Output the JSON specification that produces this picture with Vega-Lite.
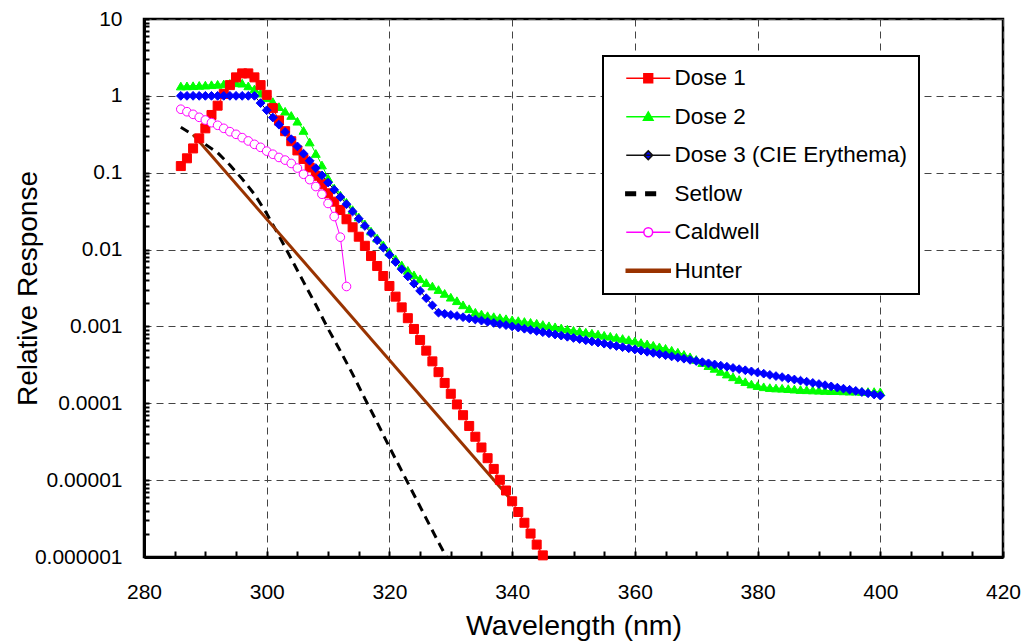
{
  "$schema": "https://vega.github.io/schema/vega-lite/v6.json",
  "width": 859,
  "height": 538,
  "autosize": "none",
  "padding": {"left": 144, "top": 19, "right": 21, "bottom": 84},
  "background": "white",
  "config": {
    "font": "Liberation Sans",
    "view": {"stroke": "black", "strokeWidth": 2.5},
    "axis": {"labelFont": "Liberation Sans", "titleFont": "Liberation Sans", "labelColor": "black", "titleColor": "black", "titleFontWeight": "normal"}
  },
  "data": {"values": [
    {"s": "Setlow", "w": 286, "v": 0.39}, {"s": "Setlow", "w": 288, "v": 0.31}, {"s": "Setlow", "w": 290, "v": 0.234}, {"s": "Setlow", "w": 292, "v": 0.182}, {"s": "Setlow", "w": 294, "v": 0.126}, {"s": "Setlow", "w": 296, "v": 0.0832}, {"s": "Setlow", "w": 298, "v": 0.0525}, {"s": "Setlow", "w": 300, "v": 0.0295}, {"s": "Setlow", "w": 302, "v": 0.0151}, {"s": "Setlow", "w": 304, "v": 0.00759}, {"s": "Setlow", "w": 306, "v": 0.0038}, {"s": "Setlow", "w": 308, "v": 0.00191}, {"s": "Setlow", "w": 310, "v": 0.000933}, {"s": "Setlow", "w": 312, "v": 0.000479}, {"s": "Setlow", "w": 314, "v": 0.00024}, {"s": "Setlow", "w": 316, "v": 0.000115}, {"s": "Setlow", "w": 318, "v": 0.0000562}, {"s": "Setlow", "w": 320, "v": 0.0000269}, {"s": "Setlow", "w": 322, "v": 0.0000132}, {"s": "Setlow", "w": 324, "v": 0.00000646}, {"s": "Setlow", "w": 326, "v": 0.00000316}, {"s": "Setlow", "w": 328, "v": 0.00000155}, {"s": "Setlow", "w": 329.3, "v": 0.000001},
    {"s": "Hunter", "w": 288, "v": 0.314}, {"s": "Hunter", "w": 339.5, "v": 0.00000594},
    {"s": "Dose 2", "w": 286, "v": 1.343}, {"s": "Dose 2", "w": 287, "v": 1.349}, {"s": "Dose 2", "w": 288, "v": 1.355}, {"s": "Dose 2", "w": 289, "v": 1.368}, {"s": "Dose 2", "w": 290, "v": 1.38}, {"s": "Dose 2", "w": 291, "v": 1.396}, {"s": "Dose 2", "w": 292, "v": 1.413}, {"s": "Dose 2", "w": 293, "v": 1.429}, {"s": "Dose 2", "w": 294, "v": 1.452}, {"s": "Dose 2", "w": 295, "v": 1.479}, {"s": "Dose 2", "w": 296, "v": 1.462}, {"s": "Dose 2", "w": 297, "v": 1.349}, {"s": "Dose 2", "w": 298, "v": 1.23}, {"s": "Dose 2", "w": 299, "v": 1.084}, {"s": "Dose 2", "w": 300, "v": 0.944}, {"s": "Dose 2", "w": 301, "v": 0.841}, {"s": "Dose 2", "w": 302, "v": 0.724}, {"s": "Dose 2", "w": 303, "v": 0.631}, {"s": "Dose 2", "w": 304, "v": 0.556}, {"s": "Dose 2", "w": 305, "v": 0.468}, {"s": "Dose 2", "w": 306, "v": 0.355}, {"s": "Dose 2", "w": 307, "v": 0.251}, {"s": "Dose 2", "w": 308, "v": 0.178}, {"s": "Dose 2", "w": 309, "v": 0.126}, {"s": "Dose 2", "w": 310, "v": 0.0851}, {"s": "Dose 2", "w": 311, "v": 0.0631}, {"s": "Dose 2", "w": 312, "v": 0.0513}, {"s": "Dose 2", "w": 313, "v": 0.0412}, {"s": "Dose 2", "w": 314, "v": 0.0331}, {"s": "Dose 2", "w": 315, "v": 0.0266}, {"s": "Dose 2", "w": 316, "v": 0.0216}, {"s": "Dose 2", "w": 317, "v": 0.0174}, {"s": "Dose 2", "w": 318, "v": 0.0141}, {"s": "Dose 2", "w": 319, "v": 0.0115}, {"s": "Dose 2", "w": 320, "v": 0.00933}, {"s": "Dose 2", "w": 321, "v": 0.00759}, {"s": "Dose 2", "w": 322, "v": 0.00631}, {"s": "Dose 2", "w": 323, "v": 0.00537}, {"s": "Dose 2", "w": 324, "v": 0.00468}, {"s": "Dose 2", "w": 325, "v": 0.00417}, {"s": "Dose 2", "w": 326, "v": 0.00372}, {"s": "Dose 2", "w": 327, "v": 0.00335}, {"s": "Dose 2", "w": 328, "v": 0.00302}, {"s": "Dose 2", "w": 329, "v": 0.00269}, {"s": "Dose 2", "w": 330, "v": 0.0024}, {"s": "Dose 2", "w": 331, "v": 0.00216}, {"s": "Dose 2", "w": 332, "v": 0.00191}, {"s": "Dose 2", "w": 333, "v": 0.0017}, {"s": "Dose 2", "w": 334, "v": 0.00153}, {"s": "Dose 2", "w": 335, "v": 0.00145}, {"s": "Dose 2", "w": 336, "v": 0.00138}, {"s": "Dose 2", "w": 337, "v": 0.00134}, {"s": "Dose 2", "w": 338, "v": 0.0013}, {"s": "Dose 2", "w": 339, "v": 0.00126}, {"s": "Dose 2", "w": 340, "v": 0.00122}, {"s": "Dose 2", "w": 341, "v": 0.00119}, {"s": "Dose 2", "w": 342, "v": 0.00116}, {"s": "Dose 2", "w": 343, "v": 0.00113}, {"s": "Dose 2", "w": 344, "v": 0.0011}, {"s": "Dose 2", "w": 345, "v": 0.00106}, {"s": "Dose 2", "w": 346, "v": 0.00102}, {"s": "Dose 2", "w": 347, "v": 0.000989}, {"s": "Dose 2", "w": 348, "v": 0.000955}, {"s": "Dose 2", "w": 349, "v": 0.000923}, {"s": "Dose 2", "w": 350, "v": 0.000891}, {"s": "Dose 2", "w": 351, "v": 0.000867}, {"s": "Dose 2", "w": 352, "v": 0.000841}, {"s": "Dose 2", "w": 353, "v": 0.000817}, {"s": "Dose 2", "w": 354, "v": 0.000794}, {"s": "Dose 2", "w": 355, "v": 0.000767}, {"s": "Dose 2", "w": 356, "v": 0.000745}, {"s": "Dose 2", "w": 357, "v": 0.000721}, {"s": "Dose 2", "w": 358, "v": 0.000697}, {"s": "Dose 2", "w": 359, "v": 0.000673}, {"s": "Dose 2", "w": 360, "v": 0.000646}, {"s": "Dose 2", "w": 361, "v": 0.000617}, {"s": "Dose 2", "w": 362, "v": 0.000592}, {"s": "Dose 2", "w": 363, "v": 0.000569}, {"s": "Dose 2", "w": 364, "v": 0.000543}, {"s": "Dose 2", "w": 365, "v": 0.000519}, {"s": "Dose 2", "w": 366, "v": 0.00049}, {"s": "Dose 2", "w": 367, "v": 0.000462}, {"s": "Dose 2", "w": 368, "v": 0.000432}, {"s": "Dose 2", "w": 369, "v": 0.000403}, {"s": "Dose 2", "w": 370, "v": 0.000372}, {"s": "Dose 2", "w": 371, "v": 0.000339}, {"s": "Dose 2", "w": 372, "v": 0.000309}, {"s": "Dose 2", "w": 373, "v": 0.000285}, {"s": "Dose 2", "w": 374, "v": 0.00026}, {"s": "Dose 2", "w": 375, "v": 0.00024}, {"s": "Dose 2", "w": 376, "v": 0.000221}, {"s": "Dose 2", "w": 377, "v": 0.000204}, {"s": "Dose 2", "w": 378, "v": 0.000191}, {"s": "Dose 2", "w": 379, "v": 0.000178}, {"s": "Dose 2", "w": 380, "v": 0.00017}, {"s": "Dose 2", "w": 381, "v": 0.000164}, {"s": "Dose 2", "w": 382, "v": 0.00016}, {"s": "Dose 2", "w": 383, "v": 0.000158}, {"s": "Dose 2", "w": 384, "v": 0.000157}, {"s": "Dose 2", "w": 385, "v": 0.000155}, {"s": "Dose 2", "w": 386, "v": 0.000153}, {"s": "Dose 2", "w": 387, "v": 0.000151}, {"s": "Dose 2", "w": 388, "v": 0.00015}, {"s": "Dose 2", "w": 389, "v": 0.000149}, {"s": "Dose 2", "w": 390, "v": 0.000148}, {"s": "Dose 2", "w": 391, "v": 0.000147}, {"s": "Dose 2", "w": 392, "v": 0.000146}, {"s": "Dose 2", "w": 393, "v": 0.000146}, {"s": "Dose 2", "w": 394, "v": 0.000145}, {"s": "Dose 2", "w": 395, "v": 0.000144}, {"s": "Dose 2", "w": 396, "v": 0.000144}, {"s": "Dose 2", "w": 397, "v": 0.000143}, {"s": "Dose 2", "w": 398, "v": 0.000142}, {"s": "Dose 2", "w": 399, "v": 0.000142}, {"s": "Dose 2", "w": 400, "v": 0.000141},
    {"s": "Dose 1", "w": 286, "v": 0.122}, {"s": "Dose 1", "w": 287, "v": 0.154}, {"s": "Dose 1", "w": 288, "v": 0.207}, {"s": "Dose 1", "w": 289, "v": 0.28}, {"s": "Dose 1", "w": 290, "v": 0.378}, {"s": "Dose 1", "w": 291, "v": 0.564}, {"s": "Dose 1", "w": 292, "v": 0.745}, {"s": "Dose 1", "w": 293, "v": 1.06}, {"s": "Dose 1", "w": 294, "v": 1.38}, {"s": "Dose 1", "w": 295, "v": 1.74}, {"s": "Dose 1", "w": 296, "v": 1.96}, {"s": "Dose 1", "w": 297, "v": 1.96}, {"s": "Dose 1", "w": 298, "v": 1.74}, {"s": "Dose 1", "w": 299, "v": 1.38}, {"s": "Dose 1", "w": 300, "v": 1.03}, {"s": "Dose 1", "w": 301, "v": 0.692}, {"s": "Dose 1", "w": 302, "v": 0.479}, {"s": "Dose 1", "w": 303, "v": 0.347}, {"s": "Dose 1", "w": 304, "v": 0.257}, {"s": "Dose 1", "w": 305, "v": 0.195}, {"s": "Dose 1", "w": 306, "v": 0.151}, {"s": "Dose 1", "w": 307, "v": 0.117}, {"s": "Dose 1", "w": 308, "v": 0.0912}, {"s": "Dose 1", "w": 309, "v": 0.0708}, {"s": "Dose 1", "w": 310, "v": 0.054}, {"s": "Dose 1", "w": 311, "v": 0.042}, {"s": "Dose 1", "w": 312, "v": 0.0327}, {"s": "Dose 1", "w": 313, "v": 0.0248}, {"s": "Dose 1", "w": 314, "v": 0.0195}, {"s": "Dose 1", "w": 315, "v": 0.0147}, {"s": "Dose 1", "w": 316, "v": 0.0112}, {"s": "Dose 1", "w": 317, "v": 0.00824}, {"s": "Dose 1", "w": 318, "v": 0.00611}, {"s": "Dose 1", "w": 319, "v": 0.00453}, {"s": "Dose 1", "w": 320, "v": 0.00336}, {"s": "Dose 1", "w": 321, "v": 0.00244}, {"s": "Dose 1", "w": 322, "v": 0.00177}, {"s": "Dose 1", "w": 323, "v": 0.00128}, {"s": "Dose 1", "w": 324, "v": 0.000927}, {"s": "Dose 1", "w": 325, "v": 0.000667}, {"s": "Dose 1", "w": 326, "v": 0.000484}, {"s": "Dose 1", "w": 327, "v": 0.000351}, {"s": "Dose 1", "w": 328, "v": 0.000254}, {"s": "Dose 1", "w": 329, "v": 0.000184}, {"s": "Dose 1", "w": 330, "v": 0.000133}, {"s": "Dose 1", "w": 331, "v": 0.0000966}, {"s": "Dose 1", "w": 332, "v": 0.00007}, {"s": "Dose 1", "w": 333, "v": 0.0000507}, {"s": "Dose 1", "w": 334, "v": 0.0000367}, {"s": "Dose 1", "w": 335, "v": 0.0000266}, {"s": "Dose 1", "w": 336, "v": 0.0000193}, {"s": "Dose 1", "w": 337, "v": 0.000014}, {"s": "Dose 1", "w": 338, "v": 0.0000101}, {"s": "Dose 1", "w": 339, "v": 0.00000733}, {"s": "Dose 1", "w": 340, "v": 0.00000531}, {"s": "Dose 1", "w": 341, "v": 0.00000385}, {"s": "Dose 1", "w": 342, "v": 0.00000279}, {"s": "Dose 1", "w": 343, "v": 0.00000202}, {"s": "Dose 1", "w": 344, "v": 0.00000145}, {"s": "Dose 1", "w": 345, "v": 0.00000105},
    {"s": "Dose 3 (CIE Erythema)", "w": 286, "v": 1}, {"s": "Dose 3 (CIE Erythema)", "w": 287, "v": 1}, {"s": "Dose 3 (CIE Erythema)", "w": 288, "v": 1}, {"s": "Dose 3 (CIE Erythema)", "w": 289, "v": 1}, {"s": "Dose 3 (CIE Erythema)", "w": 290, "v": 1}, {"s": "Dose 3 (CIE Erythema)", "w": 291, "v": 1}, {"s": "Dose 3 (CIE Erythema)", "w": 292, "v": 1}, {"s": "Dose 3 (CIE Erythema)", "w": 293, "v": 1}, {"s": "Dose 3 (CIE Erythema)", "w": 294, "v": 1}, {"s": "Dose 3 (CIE Erythema)", "w": 295, "v": 1}, {"s": "Dose 3 (CIE Erythema)", "w": 296, "v": 1}, {"s": "Dose 3 (CIE Erythema)", "w": 297, "v": 1}, {"s": "Dose 3 (CIE Erythema)", "w": 298, "v": 1}, {"s": "Dose 3 (CIE Erythema)", "w": 299, "v": 0.805}, {"s": "Dose 3 (CIE Erythema)", "w": 300, "v": 0.649}, {"s": "Dose 3 (CIE Erythema)", "w": 301, "v": 0.522}, {"s": "Dose 3 (CIE Erythema)", "w": 302, "v": 0.421}, {"s": "Dose 3 (CIE Erythema)", "w": 303, "v": 0.339}, {"s": "Dose 3 (CIE Erythema)", "w": 304, "v": 0.273}, {"s": "Dose 3 (CIE Erythema)", "w": 305, "v": 0.22}, {"s": "Dose 3 (CIE Erythema)", "w": 306, "v": 0.177}, {"s": "Dose 3 (CIE Erythema)", "w": 307, "v": 0.143}, {"s": "Dose 3 (CIE Erythema)", "w": 308, "v": 0.115}, {"s": "Dose 3 (CIE Erythema)", "w": 309, "v": 0.0925}, {"s": "Dose 3 (CIE Erythema)", "w": 310, "v": 0.0745}, {"s": "Dose 3 (CIE Erythema)", "w": 311, "v": 0.06}, {"s": "Dose 3 (CIE Erythema)", "w": 312, "v": 0.0483}, {"s": "Dose 3 (CIE Erythema)", "w": 313, "v": 0.0389}, {"s": "Dose 3 (CIE Erythema)", "w": 314, "v": 0.0313}, {"s": "Dose 3 (CIE Erythema)", "w": 315, "v": 0.0252}, {"s": "Dose 3 (CIE Erythema)", "w": 316, "v": 0.0203}, {"s": "Dose 3 (CIE Erythema)", "w": 317, "v": 0.0164}, {"s": "Dose 3 (CIE Erythema)", "w": 318, "v": 0.0132}, {"s": "Dose 3 (CIE Erythema)", "w": 319, "v": 0.0106}, {"s": "Dose 3 (CIE Erythema)", "w": 320, "v": 0.00855}, {"s": "Dose 3 (CIE Erythema)", "w": 321, "v": 0.00689}, {"s": "Dose 3 (CIE Erythema)", "w": 322, "v": 0.00555}, {"s": "Dose 3 (CIE Erythema)", "w": 323, "v": 0.00447}, {"s": "Dose 3 (CIE Erythema)", "w": 324, "v": 0.0036}, {"s": "Dose 3 (CIE Erythema)", "w": 325, "v": 0.0029}, {"s": "Dose 3 (CIE Erythema)", "w": 326, "v": 0.00233}, {"s": "Dose 3 (CIE Erythema)", "w": 327, "v": 0.00188}, {"s": "Dose 3 (CIE Erythema)", "w": 328, "v": 0.00151}, {"s": "Dose 3 (CIE Erythema)", "w": 329, "v": 0.00146}, {"s": "Dose 3 (CIE Erythema)", "w": 330, "v": 0.00141}, {"s": "Dose 3 (CIE Erythema)", "w": 331, "v": 0.00137}, {"s": "Dose 3 (CIE Erythema)", "w": 332, "v": 0.00132}, {"s": "Dose 3 (CIE Erythema)", "w": 333, "v": 0.00127}, {"s": "Dose 3 (CIE Erythema)", "w": 334, "v": 0.00123}, {"s": "Dose 3 (CIE Erythema)", "w": 335, "v": 0.00119}, {"s": "Dose 3 (CIE Erythema)", "w": 336, "v": 0.00115}, {"s": "Dose 3 (CIE Erythema)", "w": 337, "v": 0.00111}, {"s": "Dose 3 (CIE Erythema)", "w": 338, "v": 0.00107}, {"s": "Dose 3 (CIE Erythema)", "w": 339, "v": 0.00104}, {"s": "Dose 3 (CIE Erythema)", "w": 340, "v": 0.001}, {"s": "Dose 3 (CIE Erythema)", "w": 341, "v": 0.000966}, {"s": "Dose 3 (CIE Erythema)", "w": 342, "v": 0.000933}, {"s": "Dose 3 (CIE Erythema)", "w": 343, "v": 0.000902}, {"s": "Dose 3 (CIE Erythema)", "w": 344, "v": 0.000871}, {"s": "Dose 3 (CIE Erythema)", "w": 345, "v": 0.000841}, {"s": "Dose 3 (CIE Erythema)", "w": 346, "v": 0.000813}, {"s": "Dose 3 (CIE Erythema)", "w": 347, "v": 0.000785}, {"s": "Dose 3 (CIE Erythema)", "w": 348, "v": 0.000759}, {"s": "Dose 3 (CIE Erythema)", "w": 349, "v": 0.000733}, {"s": "Dose 3 (CIE Erythema)", "w": 350, "v": 0.000708}, {"s": "Dose 3 (CIE Erythema)", "w": 351, "v": 0.000684}, {"s": "Dose 3 (CIE Erythema)", "w": 352, "v": 0.000661}, {"s": "Dose 3 (CIE Erythema)", "w": 353, "v": 0.000638}, {"s": "Dose 3 (CIE Erythema)", "w": 354, "v": 0.000617}, {"s": "Dose 3 (CIE Erythema)", "w": 355, "v": 0.000596}, {"s": "Dose 3 (CIE Erythema)", "w": 356, "v": 0.000575}, {"s": "Dose 3 (CIE Erythema)", "w": 357, "v": 0.000556}, {"s": "Dose 3 (CIE Erythema)", "w": 358, "v": 0.000537}, {"s": "Dose 3 (CIE Erythema)", "w": 359, "v": 0.000519}, {"s": "Dose 3 (CIE Erythema)", "w": 360, "v": 0.000501}, {"s": "Dose 3 (CIE Erythema)", "w": 361, "v": 0.000484}, {"s": "Dose 3 (CIE Erythema)", "w": 362, "v": 0.000468}, {"s": "Dose 3 (CIE Erythema)", "w": 363, "v": 0.000452}, {"s": "Dose 3 (CIE Erythema)", "w": 364, "v": 0.000437}, {"s": "Dose 3 (CIE Erythema)", "w": 365, "v": 0.000422}, {"s": "Dose 3 (CIE Erythema)", "w": 366, "v": 0.000407}, {"s": "Dose 3 (CIE Erythema)", "w": 367, "v": 0.000394}, {"s": "Dose 3 (CIE Erythema)", "w": 368, "v": 0.00038}, {"s": "Dose 3 (CIE Erythema)", "w": 369, "v": 0.000367}, {"s": "Dose 3 (CIE Erythema)", "w": 370, "v": 0.000355}, {"s": "Dose 3 (CIE Erythema)", "w": 371, "v": 0.000343}, {"s": "Dose 3 (CIE Erythema)", "w": 372, "v": 0.000331}, {"s": "Dose 3 (CIE Erythema)", "w": 373, "v": 0.00032}, {"s": "Dose 3 (CIE Erythema)", "w": 374, "v": 0.000309}, {"s": "Dose 3 (CIE Erythema)", "w": 375, "v": 0.000299}, {"s": "Dose 3 (CIE Erythema)", "w": 376, "v": 0.000288}, {"s": "Dose 3 (CIE Erythema)", "w": 377, "v": 0.000278}, {"s": "Dose 3 (CIE Erythema)", "w": 378, "v": 0.000269}, {"s": "Dose 3 (CIE Erythema)", "w": 379, "v": 0.00026}, {"s": "Dose 3 (CIE Erythema)", "w": 380, "v": 0.000251}, {"s": "Dose 3 (CIE Erythema)", "w": 381, "v": 0.000243}, {"s": "Dose 3 (CIE Erythema)", "w": 382, "v": 0.000234}, {"s": "Dose 3 (CIE Erythema)", "w": 383, "v": 0.000226}, {"s": "Dose 3 (CIE Erythema)", "w": 384, "v": 0.000219}, {"s": "Dose 3 (CIE Erythema)", "w": 385, "v": 0.000211}, {"s": "Dose 3 (CIE Erythema)", "w": 386, "v": 0.000204}, {"s": "Dose 3 (CIE Erythema)", "w": 387, "v": 0.000197}, {"s": "Dose 3 (CIE Erythema)", "w": 388, "v": 0.000191}, {"s": "Dose 3 (CIE Erythema)", "w": 389, "v": 0.000184}, {"s": "Dose 3 (CIE Erythema)", "w": 390, "v": 0.000178}, {"s": "Dose 3 (CIE Erythema)", "w": 391, "v": 0.000172}, {"s": "Dose 3 (CIE Erythema)", "w": 392, "v": 0.000166}, {"s": "Dose 3 (CIE Erythema)", "w": 393, "v": 0.00016}, {"s": "Dose 3 (CIE Erythema)", "w": 394, "v": 0.000155}, {"s": "Dose 3 (CIE Erythema)", "w": 395, "v": 0.00015}, {"s": "Dose 3 (CIE Erythema)", "w": 396, "v": 0.000145}, {"s": "Dose 3 (CIE Erythema)", "w": 397, "v": 0.00014}, {"s": "Dose 3 (CIE Erythema)", "w": 398, "v": 0.000135}, {"s": "Dose 3 (CIE Erythema)", "w": 399, "v": 0.00013}, {"s": "Dose 3 (CIE Erythema)", "w": 400, "v": 0.000126},
    {"s": "Caldwell", "w": 286, "v": 0.67}, {"s": "Caldwell", "w": 287, "v": 0.622}, {"s": "Caldwell", "w": 288, "v": 0.575}, {"s": "Caldwell", "w": 289, "v": 0.526}, {"s": "Caldwell", "w": 290, "v": 0.485}, {"s": "Caldwell", "w": 291, "v": 0.448}, {"s": "Caldwell", "w": 292, "v": 0.414}, {"s": "Caldwell", "w": 293, "v": 0.378}, {"s": "Caldwell", "w": 294, "v": 0.342}, {"s": "Caldwell", "w": 295, "v": 0.316}, {"s": "Caldwell", "w": 296, "v": 0.286}, {"s": "Caldwell", "w": 297, "v": 0.259}, {"s": "Caldwell", "w": 298, "v": 0.234}, {"s": "Caldwell", "w": 299, "v": 0.214}, {"s": "Caldwell", "w": 300, "v": 0.191}, {"s": "Caldwell", "w": 301, "v": 0.174}, {"s": "Caldwell", "w": 302, "v": 0.158}, {"s": "Caldwell", "w": 303, "v": 0.146}, {"s": "Caldwell", "w": 304, "v": 0.132}, {"s": "Caldwell", "w": 305, "v": 0.115}, {"s": "Caldwell", "w": 306, "v": 0.0955}, {"s": "Caldwell", "w": 307, "v": 0.0813}, {"s": "Caldwell", "w": 308, "v": 0.0661}, {"s": "Caldwell", "w": 309, "v": 0.0525}, {"s": "Caldwell", "w": 310, "v": 0.0398}, {"s": "Caldwell", "w": 311, "v": 0.0269}, {"s": "Caldwell", "w": 312, "v": 0.0145}, {"s": "Caldwell", "w": 313, "v": 0.00331}
  ]},
  "layer": [
    {
      "transform": [{"filter": {"field": "s", "equal": "Setlow"}}],
      "mark": {"type": "line", "clip": true, "strokeWidth": 3, "strokeDash": [9, 6]},
      "encoding": {
        "x": {"field": "w", "type": "quantitative",
          "scale": {"domain": [280, 420], "nice": false, "zero": false},
          "axis": {"orient": "bottom", "values": [280, 300, 320, 340, 360, 380, 400, 420], "format": "d",
            "grid": true, "gridDash": [7, 5], "gridColor": "#444444", "gridWidth": 1,
            "ticks": false, "domain": true, "domainColor": "black", "domainWidth": 3,
            "labelFontSize": 21, "labelPadding": 24, "labelFlush": false,
            "title": "Wavelength (nm)", "titleFontSize": 28.5, "titleX": 429.5, "titleY": 68, "titleBaseline": "middle", "titleAlign": "center"}},
        "y": {"field": "v", "type": "quantitative",
          "scale": {"type": "log", "domain": [0.000001, 10], "nice": false},
          "axis": {"orient": "left", "values": [0.000001, 0.00001, 0.0001, 0.001, 0.01, 0.1, 1, 10],
            "labelExpr": "datum.value >= 1 ? format(datum.value, 'd') : format(datum.value, '.' + round(-log(datum.value) / LN10) + 'f')",
            "grid": true, "gridDash": [7, 5], "gridColor": "#444444", "gridWidth": 1,
            "ticks": false, "domain": true, "domainColor": "black", "domainWidth": 3,
            "labelFontSize": 21, "labelPadding": 22, "labelFlush": false, "labelBaseline": "middle",
            "title": "Relative Response", "titleFontSize": 28, "titleX": -116, "titleY": 269, "titleAngle": -90, "titleBaseline": "middle", "titleAlign": "center"}},
        "color": {"field": "s", "type": "nominal",
          "scale": {"domain": ["Dose 1", "Dose 2", "Dose 3 (CIE Erythema)", "Setlow", "Caldwell", "Hunter"],
                    "range": ["#ff0000", "#00ff00", "#111111", "#000000", "#ff00ff", "#993300"]},
          "legend": {
            "title": null, "orient": "none", "legendX": 459, "legendY": 37,
            "labelFont": "Liberation Sans", "labelFontSize": 22.5, "labelColor": "black", "labelLimit": 400,
            "symbolSize": 256, "symbolOffset": 23, "labelOffset": 15,
            "rowPadding": 15.5, "padding": 11,
            "strokeColor": "black", "fillColor": "white",
            "encode": {
              "legend": {"update": {"strokeWidth": {"value": 2}}},
              "symbols": {"update": {
                "shape": {"signal": "datum.value === 'Dose 1' ? 'M-2.75,0H2.75M-0.55,-0.55H0.55V0.55H-0.55Z' : datum.value === 'Dose 2' ? 'M-2.75,0H2.75M0,-0.6L0.6,0.45H-0.6Z' : datum.value === 'Dose 3 (CIE Erythema)' ? 'M-2.75,0H2.75M0,-0.55L0.55,0L0,0.55L-0.55,0Z' : datum.value === 'Caldwell' ? 'M-2.75,0H-0.55M0.55,0H2.75M0.55,0A0.55,0.55,0,1,1,-0.55,0A0.55,0.55,0,1,1,0.55,0Z' : datum.value === 'Setlow' ? 'M-2.8,-0.22H-1.6V0.22H-2.8ZM-0.3,-0.22H0.9V0.22H-0.3Z' : 'M-2.75,-0.2H2.75V0.2H-2.75Z'"},
                "size": {"value": 256},
                "fill": {"signal": "datum.value === 'Dose 1' ? '#ff0000' : datum.value === 'Dose 2' ? '#00ff00' : datum.value === 'Dose 3 (CIE Erythema)' ? '#0000ff' : datum.value === 'Caldwell' ? '#ffffff' : datum.value === 'Setlow' ? '#000000' : '#993300'"},
                "stroke": {"signal": "datum.value === 'Dose 1' ? '#ff0000' : datum.value === 'Dose 2' ? '#00ff00' : datum.value === 'Dose 3 (CIE Erythema)' ? '#333344' : datum.value === 'Setlow' ? '#000000' : datum.value === 'Caldwell' ? '#ff00ff' : '#993300'"},
                "opacity": {"value": 1}
              }}
            }
          }}
      }
    },
    {
      "transform": [{"filter": {"field": "s", "equal": "Hunter"}}],
      "mark": {"type": "line", "clip": true, "strokeWidth": 3},
      "encoding": {
        "x": {"field": "w", "type": "quantitative", "axis": null},
        "y": {"field": "v", "type": "quantitative", "axis": null},
        "color": {"field": "s", "type": "nominal", "legend": null}
      }
    },
    {
      "transform": [{"filter": {"field": "s", "oneOf": ["Dose 2", "Dose 1", "Dose 3 (CIE Erythema)", "Caldwell"]}}],
      "mark": {"type": "line", "clip": true, "strokeWidth": 1},
      "encoding": {
        "x": {"field": "w", "type": "quantitative", "axis": null},
        "y": {"field": "v", "type": "quantitative", "axis": null},
        "color": {"field": "s", "type": "nominal", "legend": null}
      }
    },
    {
      "transform": [{"filter": {"field": "s", "oneOf": ["Dose 2", "Dose 1", "Dose 3 (CIE Erythema)", "Caldwell"]}}],
      "mark": {"type": "point", "filled": true, "strokeWidth": 1, "opacity": 1},
      "encoding": {
        "x": {"field": "w", "type": "quantitative",
          "axis": {"orient": "bottom", "values": [280, 285, 290, 295, 300, 305, 310, 315, 320, 325, 330, 335, 340, 345, 350, 355, 360, 365, 370, 375, 380, 385, 390, 395, 400, 405, 410, 415, 420],
            "labels": false, "grid": false, "domain": false, "ticks": true, "tickSize": -6, "tickWidth": 2, "tickColor": "black", "title": null}},
        "y": {"field": "v", "type": "quantitative",
          "axis": {"orient": "left", "values": [0.000001, 0.000002, 0.000003, 0.000004, 0.000005, 0.000006, 0.000007, 0.000008, 0.000009, 0.00001, 0.00002, 0.00003, 0.00004, 0.00005, 0.00006, 0.00007, 0.00008, 0.00009, 0.0001, 0.0002, 0.0003, 0.0004, 0.0005, 0.0006, 0.0007, 0.0008, 0.0009, 0.001, 0.002, 0.003, 0.004, 0.005, 0.006, 0.007, 0.008, 0.009, 0.01, 0.02, 0.03, 0.04, 0.05, 0.06, 0.07, 0.08, 0.09, 0.1, 0.2, 0.3, 0.4, 0.5, 0.6, 0.7, 0.8, 0.9, 1, 2, 3, 4, 5, 6, 7, 8, 9, 10],
            "labels": false, "grid": false, "domain": false, "ticks": true, "tickSize": -5, "tickWidth": 2, "tickColor": "black", "title": null}},
        "shape": {"field": "s", "type": "nominal",
          "scale": {"domain": ["Dose 1", "Dose 2", "Dose 3 (CIE Erythema)", "Caldwell"], "range": ["square", "triangle-up", "diamond", "circle"]},
          "legend": null},
        "fill": {"field": "s", "type": "nominal",
          "scale": {"domain": ["Dose 1", "Dose 2", "Dose 3 (CIE Erythema)", "Caldwell"], "range": ["#ff0000", "#00ff00", "#0000ff", "#ffffff"]},
          "legend": null},
        "stroke": {"field": "s", "type": "nominal",
          "scale": {"domain": ["Dose 1", "Dose 2", "Dose 3 (CIE Erythema)", "Caldwell"], "range": ["#ff0000", "#00ff00", "#0000ff", "#ff00ff"]},
          "legend": null},
        "size": {"field": "s", "type": "nominal",
          "scale": {"domain": ["Dose 1", "Dose 2", "Dose 3 (CIE Erythema)", "Caldwell"], "range": [81, 75, 60, 70]},
          "legend": null}
      }
    }
  ],
  "resolve": {"axis": {"x": "independent", "y": "independent"}}
}
